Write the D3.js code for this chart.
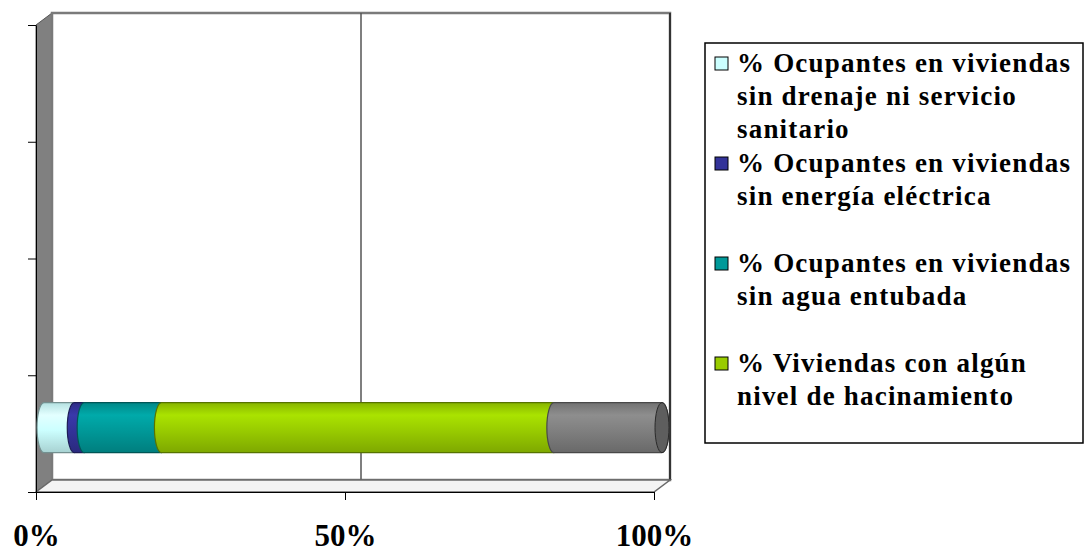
<!DOCTYPE html>
<html>
<head>
<meta charset="utf-8">
<script src="https://cdn.jsdelivr.net/npm/d3@7"></script>
<style>
  body { margin: 0; background: #fff; }
  svg { display: block; }
</style>
</head>
<body>
<div id="chart"></div>
<script>
// category slots on the vertical axis (only the first one carries data)
var categories = ['c1', 'c2', 'c3', 'c4'];

var seriesKeys = ['drenaje', 'electrica', 'agua', 'hacinamiento', 'resto'];
var seriesColors = ['#CCFFFF', '#333399', '#009999', '#99CC00', '#808080'];

// values (percent of the bar)
var drenaje = [4.9, 0, 0, 0];
var electrica = [1.6, 0, 0, 0];
var agua = [12.5, 0, 0, 0];
var hacinamiento = [63.5, 0, 0, 0];
var resto = [17.5, 0, 0, 0];

var xTicks = [0, 0.5, 1];

var legendLines = [
    ['% Ocupantes en viviendas', 'sin drenaje ni servicio', 'sanitario'],
    ['% Ocupantes en viviendas', 'sin energía eléctrica'],
    ['% Ocupantes en viviendas', 'sin agua entubada'],
    ['% Viviendas con algún', 'nivel de hacinamiento']
];

var width = 1084;
var height = 554;

// 3D offsets
var depthX = 16, depthY = -12;
var barDX = 8, barDY = -6;

var rows = categories.map(function(c, i) {
    return {
        cat: c,
        drenaje: drenaje[i],
        electrica: electrica[i],
        agua: agua[i],
        hacinamiento: hacinamiento[i],
        resto: resto[i]
    };
});

var serif = '"Liberation Serif", "Times New Roman", serif';

var svg = d3.select('#chart')
    .append('svg')
    .attr('width', width)
    .attr('height', height)
    .style('font-family', serif);

var x = d3.scaleLinear().domain([0, 1]).range([36, 654]);
var y = d3.scaleBand().domain(categories).range([492, 25]);
var yLin = d3.scaleLinear().domain([0, categories.length]).range([492, 25]);

var color = d3.scaleOrdinal().domain(seriesKeys).range(seriesColors);

var x0 = x.range()[0], x1 = x.range()[1];
var yTop = yLin.range()[1], yBot = yLin.range()[0];

// side wall
svg.append('polygon')
    .attr('points', [[x0, yTop], [x0 + depthX, yTop + depthY], [x0 + depthX, yBot + depthY], [x0, yBot]].join(' '))
    .attr('fill', '#808080')
    .attr('stroke', '#555')
    .attr('stroke-width', 1);

// back wall
svg.append('rect')
    .attr('x', x0 + depthX)
    .attr('y', yTop + depthY)
    .attr('width', x1 - x0)
    .attr('height', yBot - yTop)
    .attr('fill', '#fff')
    .attr('stroke', '#7a7a7a')
    .attr('stroke-width', 2.5);

svg.append('line')
    .attr('x1', x1 + depthX).attr('x2', x1 + depthX)
    .attr('y1', yTop + depthY).attr('y2', yBot + depthY)
    .attr('stroke', '#333')
    .attr('stroke-width', 2);

// gridline on back wall
svg.append('line')
    .attr('x1', x(0.5) + depthX).attr('x2', x(0.5) + depthX)
    .attr('y1', yTop + depthY).attr('y2', yBot + depthY)
    .attr('stroke', '#555')
    .attr('stroke-width', 1.5);

// floor
svg.append('polygon')
    .attr('points', [[x0, yBot], [x0 + depthX, yBot + depthY], [x1 + depthX, yBot + depthY], [x1, yBot]].join(' '))
    .attr('fill', '#f4f4f4')
    .attr('stroke', '#6a6a6a')
    .attr('stroke-width', 1.5);

// axes
var xAxis = svg.append('g')
    .attr('transform', 'translate(0,' + yBot + ')')
    .call(d3.axisBottom(x)
        .tickValues(xTicks)
        .tickFormat(d3.format('.0%'))
        .tickSizeInner(8)
        .tickSizeOuter(0));
xAxis.select('.domain').attr('stroke', '#000');
xAxis.selectAll('.tick line').attr('stroke', '#000');
xAxis.selectAll('.tick text')
    .attr('dy', '0.71em')
    .attr('y', 32)
    .style('font-family', serif)
    .style('font-size', '31px')
    .style('font-weight', 'bold')
    .attr('fill', '#000');

var yAxis = svg.append('g')
    .attr('transform', 'translate(' + x0 + ',0)')
    .call(d3.axisLeft(yLin)
        .ticks(categories.length)
        .tickFormat('')
        .tickSizeInner(8)
        .tickSizeOuter(0));
yAxis.select('.domain').attr('stroke', '#000');
yAxis.selectAll('.tick line').attr('stroke', '#000');

// cylinder shading
var defs = svg.append('defs');
seriesKeys.forEach(function(k) {
    var c = color(k);
    var g = defs.append('linearGradient')
        .attr('id', 'grad-' + k)
        .attr('x1', 0).attr('y1', 0).attr('x2', 0).attr('y2', 1);
    g.append('stop').attr('offset', '0%').attr('stop-color', d3.color(c).darker(0.35));
    g.append('stop').attr('offset', '25%').attr('stop-color', d3.color(c).brighter(0.3));
    g.append('stop').attr('offset', '55%').attr('stop-color', c);
    g.append('stop').attr('offset', '100%').attr('stop-color', d3.color(c).darker(0.55));
});

var stack = d3.stack()
    .keys(seriesKeys)
    .offset(d3.stackOffsetExpand);
var stacked = stack(rows);

var ry = 25, rx = 7;

function cylPath(a, b, cy) {
    return 'M' + a + ',' + (cy - ry) +
        'L' + b + ',' + (cy - ry) +
        'A' + rx + ',' + ry + ' 0 0 1 ' + b + ',' + (cy + ry) +
        'L' + a + ',' + (cy + ry) +
        'A' + rx + ',' + ry + ' 0 0 1 ' + a + ',' + (cy - ry) + 'Z';
}

var segs = [];
stacked.forEach(function(s) {
    s.forEach(function(d) {
        if (!isNaN(d[0]) && d[1] - d[0] > 0) {
            segs.push({ key: s.key, cat: d.data.cat, v0: d[0], v1: d[1] });
        }
    });
});

svg.selectAll('path.seg')
    .data(segs)
    .enter()
    .append('path')
    .attr('class', 'seg')
    .attr('d', function(d) {
        var cy = y(d.cat) + y.bandwidth() / 2 + barDY;
        return cylPath(x(d.v0) + barDX, x(d.v1) + barDX, cy);
    })
    .attr('fill', function(d) { return 'url(#grad-' + d.key + ')'; })
    .attr('stroke', function(d) { return d3.color(color(d.key)).darker(1.6); })
    .attr('stroke-width', 1.2);

// end caps of the bars
var lastKey = seriesKeys[seriesKeys.length - 1];
svg.selectAll('ellipse.cap')
    .data(segs.filter(function(d) { return d.key === lastKey; }))
    .enter()
    .append('ellipse')
    .attr('class', 'cap')
    .attr('cx', function(d) { return x(d.v1) + barDX; })
    .attr('cy', function(d) { return y(d.cat) + y.bandwidth() / 2 + barDY; })
    .attr('rx', rx)
    .attr('ry', ry)
    .attr('fill', '#5e5e5e')
    .attr('stroke', '#2a2a2a')
    .attr('stroke-width', 1);

// legend
svg.append('rect')
    .attr('x', 705)
    .attr('y', 43)
    .attr('width', 378)
    .attr('height', 400)
    .attr('fill', '#fff')
    .attr('stroke', '#000')
    .attr('stroke-width', 1.5);

var legend = svg.selectAll('.legend')
    .data(legendLines)
    .enter()
    .append('g')
    .attr('class', 'legend')
    .attr('transform', function(d, i) {
        return 'translate(715,' + (72 + i * 100) + ')';
    });

legend.append('rect')
    .attr('x', 0)
    .attr('y', -15)
    .attr('width', 13)
    .attr('height', 13)
    .attr('fill', function(d, i) { return color(seriesKeys[i]); })
    .attr('stroke', '#000')
    .attr('stroke-width', 1);

legend.append('text')
    .attr('x', 22)
    .attr('y', 0)
    .style('font-family', serif)
    .style('font-size', '27px')
    .style('font-weight', 'bold')
    .style('letter-spacing', '1.2px')
    .attr('fill', '#000')
    .selectAll('tspan')
    .data(function(d) { return d; })
    .enter()
    .append('tspan')
    .attr('x', 22)
    .attr('dy', function(d, i) { return i === 0 ? 0 : 33; })
    .text(function(d) { return d; });
</script>
</body>
</html>
